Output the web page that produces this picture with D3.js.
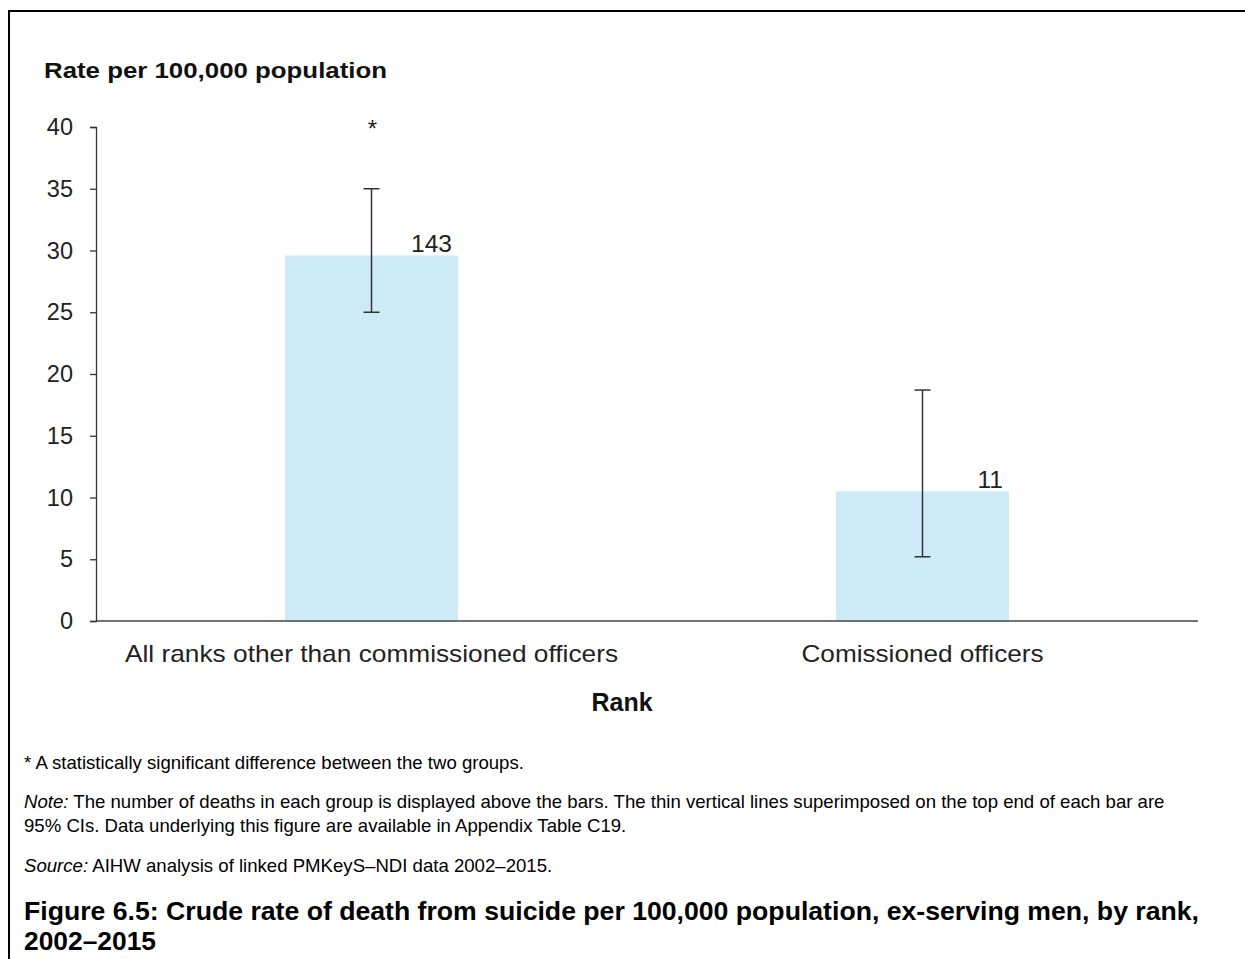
<!DOCTYPE html>
<html>
<head>
<meta charset="utf-8">
<script src="https://cdn.jsdelivr.net/npm/d3@7"></script>
<style>
  html, body { margin: 0; padding: 0; background: #fff; }
  svg { display: block; font-family: "Liberation Sans", Arial, sans-serif; }
</style>
</head>
<body>
<svg id="chart" width="1245" height="959"></svg>
<script>
// Crude suicide rate per 100,000, ex-serving men, by rank
const categories = ["All ranks other than commissioned officers", "Comissioned officers"];
const rates = [29.6, 10.5];
const ciLow = [25.0, 5.2];
const ciHigh = [35.0, 18.7];
const deaths = [143, 11];
const significant = [true, false];
const yTicks = [0, 5, 10, 15, 20, 25, 30, 35, 40];

const svg = d3.select("#chart");

// stretch a text element to a given width
function fit(sel, w) {
  return sel.attr("textLength", w).attr("lengthAdjust", "spacingAndGlyphs");
}

// frame (left and top rules)
svg.append("line").attr("x1", 9).attr("x2", 1245).attr("y1", 11).attr("y2", 11)
  .attr("stroke", "#000").attr("stroke-width", 2);
svg.append("line").attr("x1", 9).attr("x2", 9).attr("y1", 10).attr("y2", 959)
  .attr("stroke", "#000").attr("stroke-width", 2);

const plotLeft = 96, plotRight = 1198, plotTop = 127, plotBottom = 621;

const y = d3.scaleLinear().domain([0, 40]).range([plotBottom, plotTop]);
const x = d3.scaleBand().domain(categories).range([plotLeft, plotRight])
  .paddingInner(0.686).paddingOuter(0.343);

// y axis
const yAxis = d3.axisLeft(y).tickValues(yTicks).tickSize(6).tickPadding(17);
const gy = svg.append("g").attr("transform", `translate(${plotLeft},0)`).call(yAxis);
gy.select(".domain").attr("stroke", "#333").attr("stroke-width", 1.3);
gy.selectAll(".tick line").attr("stroke", "#333").attr("stroke-width", 1.3);
gy.selectAll(".tick text").attr("font-size", 23.5).attr("fill", "#222")
  .attr("font-family", "Liberation Sans, Arial, sans-serif");

// bars
svg.append("g").selectAll("rect").data(categories).join("rect")
  .attr("x", d => x(d))
  .attr("width", x.bandwidth())
  .attr("y", (d, i) => y(rates[i]))
  .attr("height", (d, i) => y(0) - y(rates[i]))
  .attr("fill", "#cdeaf7");

// x axis
const xAxis = d3.axisBottom(x).tickSize(0).tickPadding(24);
const gx = svg.append("g").attr("transform", `translate(0,${plotBottom})`).call(xAxis);
gx.select(".domain").attr("stroke", "#444").attr("stroke-width", 1.6)
  .attr("d", `M${plotLeft},0H${plotRight}`);
const catWidths = [493, 242];
gx.selectAll(".tick text").attr("font-size", 24).attr("fill", "#222")
  .attr("font-family", "Liberation Sans, Arial, sans-serif")
  .each(function (d, i) { fit(d3.select(this), catWidths[i]); });

// confidence intervals
const ci = svg.append("g").attr("stroke", "#333").attr("stroke-width", 1.5);
categories.forEach((c, i) => {
  const cx = x(c) + x.bandwidth() / 2;
  ci.append("line").attr("x1", cx).attr("x2", cx).attr("y1", y(ciLow[i])).attr("y2", y(ciHigh[i]));
  ci.append("line").attr("x1", cx - 8).attr("x2", cx + 8).attr("y1", y(ciLow[i])).attr("y2", y(ciLow[i]));
  ci.append("line").attr("x1", cx - 8).attr("x2", cx + 8).attr("y1", y(ciHigh[i])).attr("y2", y(ciHigh[i]));
});

// death counts above bars
svg.append("g").selectAll("text").data(categories).join("text")
  .attr("x", d => x(d) + x.bandwidth() - 6)
  .attr("y", (d, i) => y(rates[i]) - 3)
  .attr("text-anchor", "end")
  .attr("font-size", 24.5).attr("fill", "#222")
  .text((d, i) => deaths[i]);

// significance marker
svg.append("g").selectAll("text").data(categories.filter((d, i) => significant[i])).join("text")
  .attr("x", d => x(d) + x.bandwidth() / 2 + 1)
  .attr("y", y(40) + 10)
  .attr("text-anchor", "middle")
  .attr("font-size", 24).attr("fill", "#222")
  .text("*");

// axis titles
fit(svg.append("text").attr("x", 44).attr("y", 78)
  .attr("font-size", 22).attr("font-weight", "bold").attr("fill", "#111")
  .text("Rate per 100,000 population"), 343);
svg.append("text").attr("x", 622).attr("y", 711)
  .attr("text-anchor", "middle")
  .attr("font-size", 25).attr("font-weight", "bold").attr("fill", "#111")
  .text("Rank");

// footnotes
const notes = svg.append("g").attr("font-size", 18.6).attr("fill", "#000");
notes.append("text").attr("x", 24).attr("y", 769)
  .text("* A statistically significant difference between the two groups.");
const n1 = notes.append("text").attr("x", 24).attr("y", 808);
n1.append("tspan").attr("font-style", "italic").text("Note:");
n1.append("tspan").text(" The number of deaths in each group is displayed above the bars. The thin vertical lines superimposed on the top end of each bar are");
notes.append("text").attr("x", 24).attr("y", 832)
  .text("95% CIs. Data underlying this figure are available in Appendix Table C19.");
const n2 = notes.append("text").attr("x", 24).attr("y", 872);
n2.append("tspan").attr("font-style", "italic").text("Source:");
n2.append("tspan").text(" AIHW analysis of linked PMKeyS\u2013NDI data 2002\u20132015.");

// figure title
const title = svg.append("g").attr("font-size", 25).attr("font-weight", "bold").attr("fill", "#000");
fit(title.append("text").attr("x", 24).attr("y", 920)
  .text("Figure 6.5: Crude rate of death from suicide per 100,000 population, ex-serving men, by rank,"), 1175);
fit(title.append("text").attr("x", 24).attr("y", 950).text("2002\u20132015"), 132);
</script>
</body>
</html>
